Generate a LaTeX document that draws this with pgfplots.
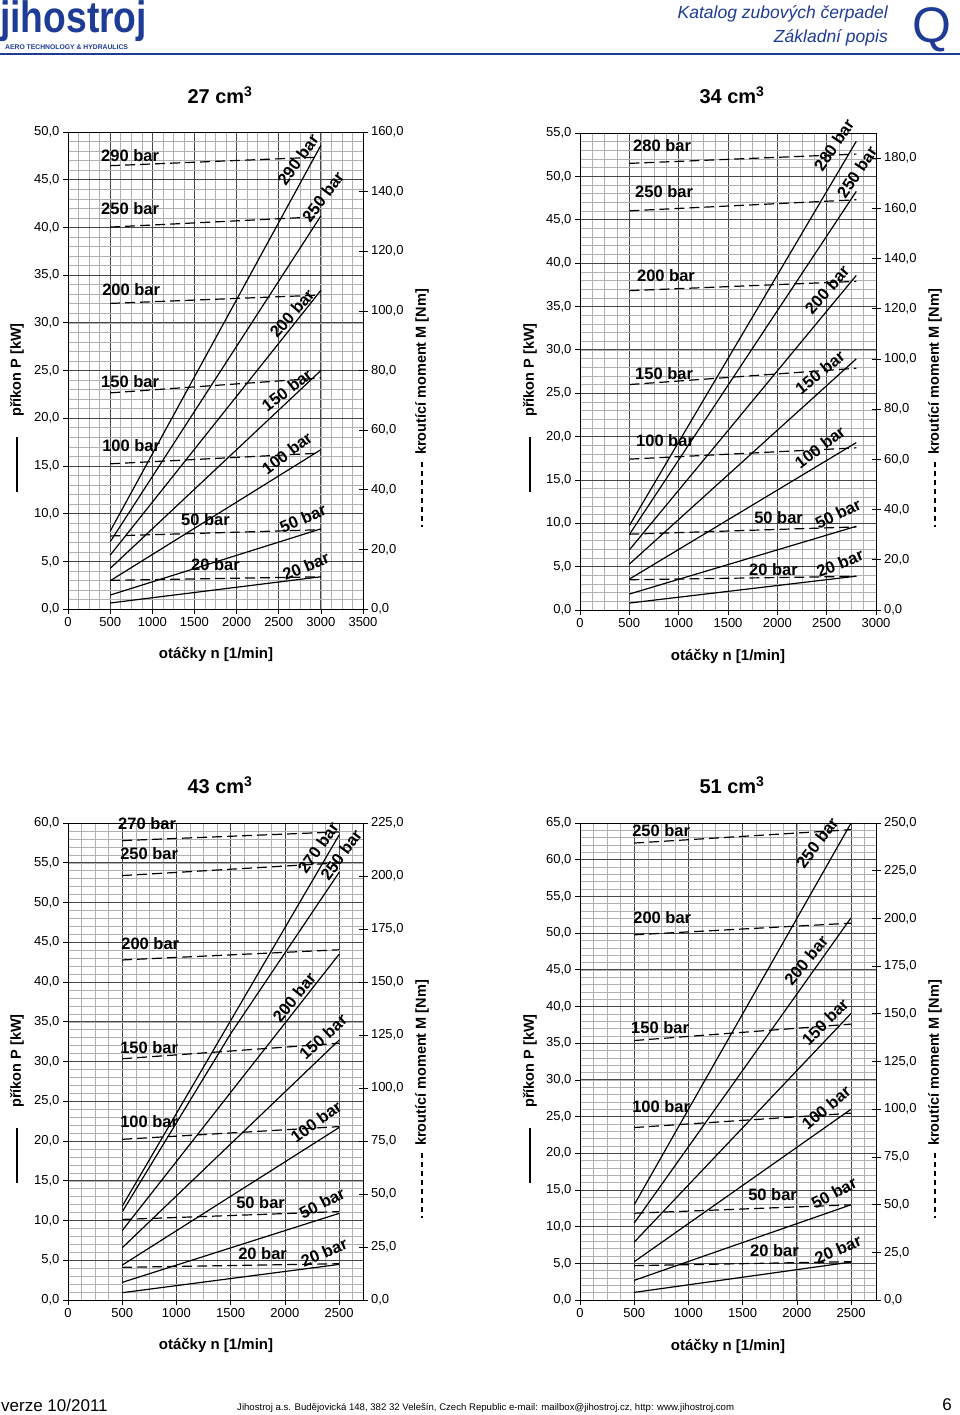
\documentclass[border=0pt]{standalone}
\usepackage{pgfplots}
\pgfplotsset{compat=1.18}
\usepackage{graphicx}
\usepackage{fontspec}
\setmainfont{Liberation Sans}
\definecolor{jblue}{HTML}{1E3C96}
\definecolor{gmaj}{HTML}{474747}
\definecolor{gmin}{HTML}{B0B0B0}
\pgfplotsset{
  base/.style={
    scale only axis, clip=false,
    xmin=0, ymin=0,
    /pgf/number format/assume math mode=true,
    tick label style={font=\fontsize{13}{15}\selectfont},
    axis line style={line width=0.8pt, black},
    yticklabel style={/pgf/number format/fixed, /pgf/number format/fixed zerofill, /pgf/number format/precision=1, /pgf/number format/use comma},
  },
  powax/.style={base,
    grid=both,
    major grid style={draw=gmaj, line width=0.75pt},
    minor grid style={draw=gmin, line width=0.5pt},
    xtick pos=left, ytick pos=left,
    tick align=outside, major tick length=5pt, minor tick length=0pt,
    tick style={black, line width=0.7pt},
    xticklabel style={/pgf/number format/1000 sep={}},
  },
  momax/.style={base,
    axis y line*=right, axis x line=none,
    tick align=center, major tick length=9pt, minor tick length=0pt,
    tick style={black, line width=0.7pt},
  },
  pline/.style={black, line width=1.2pt, no marks},
  mline/.style={black, line width=1.2pt, no marks, dash pattern=on 10pt off 5pt},
}
\tikzset{blab/.style={font=\bfseries\fontsize{16.5}{18}\selectfont, inner sep=0pt}}
\newcommand{\axlab}{\bfseries\fontsize{14.5}{16}\selectfont}
\begin{document}
\begin{tikzpicture}
\fill[white] (0pt,0pt) rectangle (960pt,-1415pt);
\useasboundingbox (0pt,0pt) rectangle (960pt,-1415pt);

% header
\node[anchor=west, text=jblue, font=\bfseries\fontsize{40}{40}\selectfont, inner sep=0pt] at (0pt,-21pt) {\scalebox{0.93}[1.1]{jihostroj}};
\node[anchor=west, text=jblue, font=\bfseries\fontsize{6.8}{7}\selectfont, inner sep=0pt] at (5pt,-47pt) {AERO TECHNOLOGY \& HYDRAULICS};
\node[anchor=east, text=jblue, font=\itshape\fontsize{17.5}{19}\selectfont, inner sep=0pt] at (888pt,-14pt) {Katalog zubových čerpadel};
\node[anchor=east, text=jblue, font=\itshape\fontsize{17.5}{19}\selectfont, inner sep=0pt] at (888pt,-38pt) {Základní popis};
\node[text=jblue, font=\fontsize{50}{50}\selectfont, inner sep=0pt] at (932pt,-30pt) {Q};
\draw[jblue, line width=2.5pt] (0pt,-54pt) -- (960pt,-54pt);

% footer
\node[anchor=west, font=\fontsize{17}{19}\selectfont, inner sep=0pt] at (1pt,-1405pt) {verze 10/2011};
\node[anchor=west, font=\fontsize{9.6}{11}\selectfont, inner sep=0pt] at (237pt,-1408pt) {Jihostroj a.s. Budějovická 148, 382 32 Velešín, Czech Republic e-mail: mailbox@jihostroj.cz, http: www.jihostroj.com};
\node[font=\fontsize{17}{19}\selectfont, inner sep=0pt] at (947pt,-1405pt) {6};

% titles
\node[font=\bfseries\fontsize{20}{22}\selectfont] at (220pt,-95pt) {27 cm\textsuperscript{3}};
\node[font=\bfseries\fontsize{20}{22}\selectfont] at (732pt,-95pt) {34 cm\textsuperscript{3}};
\node[font=\bfseries\fontsize{20}{22}\selectfont] at (220pt,-785pt) {43 cm\textsuperscript{3}};
\node[font=\bfseries\fontsize{20}{22}\selectfont] at (732pt,-785pt) {51 cm\textsuperscript{3}};

% axis labels and key lines
\foreach \xl/\xr/\yo in {17/422/0, 530/935/0, 17/422/691, 530/935/691}{
  \node[rotate=90, font=\axlab] at (\xl pt,-370pt-\yo pt) {příkon P [kW]};
  \draw[line width=1.2pt] (\xl pt,-437pt-\yo pt) -- (\xl pt,-492pt-\yo pt);
  \node[rotate=90, font=\axlab] at (\xr pt,-372pt-\yo pt) {kroutící moment M [Nm]};
  \draw[line width=1.2pt, dash pattern=on 5pt off 4pt] (\xr pt,-462pt-\yo pt) -- (\xr pt,-527pt-\yo pt);
}
\node[font=\bfseries\fontsize{15}{17}\selectfont] at (216pt,-654pt) {otáčky n [1/min]};
\node[font=\bfseries\fontsize{15}{17}\selectfont] at (728pt,-656pt) {otáčky n [1/min]};
\node[font=\bfseries\fontsize{15}{17}\selectfont] at (216pt,-1345pt) {otáčky n [1/min]};
\node[font=\bfseries\fontsize{15}{17}\selectfont] at (728pt,-1346pt) {otáčky n [1/min]};

% ================= Panel 1: 27 cm3 =================
\begin{axis}[powax, at={(68pt,-609pt)}, anchor=south west, width=295pt, height=477pt,
  xmax=3500, ymax=50, xtick={0,500,...,3500}, ytick={0,5,...,50},
  minor xtick={0,125,...,3500}, minor ytick={0,1,...,50}]
\addplot[pline] coordinates {(500,0.63) (3000,3.38)};
\addplot[pline] coordinates {(500,1.46) (3000,8.4)};
\addplot[pline] coordinates {(500,2.96) (3000,16.7)};
\addplot[pline] coordinates {(500,4.25) (3000,25.0)};
\addplot[pline] coordinates {(500,5.64) (3000,33.4)};
\addplot[pline] coordinates {(500,7.04) (3000,41.2)};
\addplot[pline] coordinates {(500,8.15) (3000,48.6)};
\node[blab, anchor=west] at (axis cs:392,47.5) {290 bar};
\node[blab, anchor=west] at (axis cs:392,42.0) {250 bar};
\node[blab, anchor=west] at (axis cs:404,33.5) {200 bar};
\node[blab, anchor=west] at (axis cs:392,23.8) {150 bar};
\node[blab, anchor=west] at (axis cs:404,17.1) {100 bar};
\node[blab, anchor=west] at (axis cs:1340,9.4) {50 bar};
\node[blab, anchor=west] at (axis cs:1459,4.7) {20 bar};
\node[blab, rotate=54] at (axis cs:2729,47.1) {290 bar};
\node[blab, rotate=53] at (axis cs:3025,43.2) {250 bar};
\node[blab, rotate=49] at (axis cs:2657,31.0) {200 bar};
\node[blab, rotate=37] at (axis cs:2598,22.96) {150 bar};
\node[blab, rotate=37] at (axis cs:2598,16.35) {100 bar};
\node[blab, rotate=23] at (axis cs:2788,9.5) {50 bar};
\node[blab, rotate=22] at (axis cs:2823,4.5) {20 bar};
\end{axis}
\begin{axis}[momax, at={(68pt,-609pt)}, anchor=south west, width=295pt, height=477pt,
  xmax=3500, ymax=160, ytick={0,20,...,160}]
\addplot[mline] coordinates {(500,9.6) (3000,10.8)};
\addplot[mline] coordinates {(500,24.5) (3000,26.6)};
\addplot[mline] coordinates {(500,48.7) (3000,52.3)};
\addplot[mline] coordinates {(500,72.5) (3000,77.5)};
\addplot[mline] coordinates {(500,102.5) (3000,105.3)};
\addplot[mline] coordinates {(500,128.1) (3000,131.6)};
\addplot[mline] coordinates {(500,148.7) (3000,151.6)};
\end{axis}

% ================= Panel 2: 34 cm3 =================
\begin{axis}[powax, at={(580pt,-610pt)}, anchor=south west, width=296pt, height=477pt,
  xmax=3000, ymax=55, xtick={0,500,...,3000}, ytick={0,5,...,55},
  minor xtick={0,125,...,3000}, minor ytick={0,1,...,55}]
\addplot[pline] coordinates {(500,0.8) (2800,3.9)};
\addplot[pline] coordinates {(500,1.84) (2800,9.65)};
\addplot[pline] coordinates {(500,3.56) (2800,19.3)};
\addplot[pline] coordinates {(500,5.29) (2800,28.96)};
\addplot[pline] coordinates {(500,6.93) (2800,38.58)};
\addplot[pline] coordinates {(500,8.70) (2800,48.27)};
\addplot[pline] coordinates {(500,9.73) (2800,54.04)};
\node[blab, anchor=west] at (axis cs:537,53.6) {280 bar};
\node[blab, anchor=west] at (axis cs:557,48.3) {250 bar};
\node[blab, anchor=west] at (axis cs:577,38.6) {200 bar};
\node[blab, anchor=west] at (axis cs:557,27.3) {150 bar};
\node[blab, anchor=west] at (axis cs:567,19.5) {100 bar};
\node[blab, anchor=west] at (axis cs:1764,10.6) {50 bar};
\node[blab, anchor=west] at (axis cs:1713,4.7) {20 bar};
\node[blab, rotate=56] at (axis cs:2574,53.6) {280 bar};
\node[blab, rotate=56] at (axis cs:2807,50.5) {250 bar};
\node[blab, rotate=49] at (axis cs:2503,36.9) {200 bar};
\node[blab, rotate=39] at (axis cs:2432,27.4) {150 bar};
\node[blab, rotate=37] at (axis cs:2432,18.8) {100 bar};
\node[blab, rotate=26] at (axis cs:2615,11.1) {50 bar};
\node[blab, rotate=22] at (axis cs:2635,5.4) {20 bar};
\end{axis}
\begin{axis}[momax, at={(580pt,-610pt)}, anchor=south west, width=296pt, height=477pt,
  xmax=3000, ymax=190, ytick={0,20,...,180}]
\addplot[mline] coordinates {(500,12.05) (2800,13.4)};
\addplot[mline] coordinates {(500,30.2) (2800,33.1)};
\addplot[mline] coordinates {(500,60.1) (2800,64.6)};
\addplot[mline] coordinates {(500,89.8) (2800,96.3)};
\addplot[mline] coordinates {(500,127.2) (2800,130.9)};
\addplot[mline] coordinates {(500,159.0) (2800,163.4)};
\addplot[mline] coordinates {(500,177.9) (2800,181.6)};
\end{axis}

% ================= Panel 3: 43 cm3 =================
\begin{axis}[powax, at={(68pt,-1300pt)}, anchor=south west, width=295pt, height=477pt,
  xmax=2720, ymax=60, xtick={0,500,...,2500}, ytick={0,5,...,60},
  minor xtick={0,125,...,2625}, minor ytick={0,1,...,60}]
\addplot[pline] coordinates {(500,0.92) (2500,4.48)};
\addplot[pline] coordinates {(500,2.22) (2500,10.9)};
\addplot[pline] coordinates {(500,4.39) (2500,21.7)};
\addplot[pline] coordinates {(500,6.57) (2500,32.7)};
\addplot[pline] coordinates {(500,8.74) (2500,43.5)};
\addplot[pline] coordinates {(500,11.09) (1500,33.5) (2500,53.8)};
\addplot[pline] coordinates {(500,11.8) (2500,58.5)};
\node[blab, anchor=west] at (axis cs:461,59.9) {270 bar};
\node[blab, anchor=west] at (axis cs:480,56.1) {250 bar};
\node[blab, anchor=west] at (axis cs:490,44.8) {200 bar};
\node[blab, anchor=west] at (axis cs:480,31.7) {150 bar};
\node[blab, anchor=west] at (axis cs:480,22.5) {100 bar};
\node[blab, anchor=west] at (axis cs:1550,12.3) {50 bar};
\node[blab, anchor=west] at (axis cs:1568,5.8) {20 bar};
\node[blab, rotate=55] at (axis cs:2306,56.9) {270 bar};
\node[blab, rotate=54] at (axis cs:2518,56.0) {250 bar};
\node[blab, rotate=51] at (axis cs:2085,38.1) {200 bar};
\node[blab, rotate=43] at (axis cs:2352,33.1) {150 bar};
\node[blab, rotate=36] at (axis cs:2288,22.4) {100 bar};
\node[blab, rotate=27] at (axis cs:2343,12.2) {50 bar};
\node[blab, rotate=23] at (axis cs:2362,6.0) {20 bar};
\end{axis}
\begin{axis}[momax, at={(68pt,-1300pt)}, anchor=south west, width=295pt, height=477pt,
  xmax=2720, ymax=225, ytick={0,25,...,225}]
\addplot[mline] coordinates {(500,15.4) (2500,17.1)};
\addplot[mline] coordinates {(500,38.0) (2500,41.7)};
\addplot[mline] coordinates {(500,75.8) (2500,81.8)};
\addplot[mline] coordinates {(500,113.8) (2500,121.1)};
\addplot[mline] coordinates {(500,160.4) (2500,165.2)};
\addplot[mline] coordinates {(500,200.2) (2500,206.2)};
\addplot[mline] coordinates {(500,216.7) (2500,220.8)};
\end{axis}

% ================= Panel 4: 51 cm3 =================
\begin{axis}[powax, at={(580pt,-1300pt)}, anchor=south west, width=296pt, height=477pt,
  xmax=2730, ymax=65, xtick={0,500,...,2500}, ytick={0,5,...,65},
  minor xtick={0,125,...,2625}, minor ytick={0,1,...,65}]
\addplot[pline] coordinates {(500,1.04) (2500,5.17)};
\addplot[pline] coordinates {(500,2.68) (2500,12.98)};
\addplot[pline] coordinates {(500,5.22) (2500,26.0)};
\addplot[pline] coordinates {(500,7.89) (2500,39.05)};
\addplot[pline] coordinates {(500,10.48) (2500,52.09)};
\addplot[pline] coordinates {(500,12.98) (2500,65.0)};
\node[blab, anchor=west] at (axis cs:480,64.0) {250 bar};
\node[blab, anchor=west] at (axis cs:490,52.1) {200 bar};
\node[blab, anchor=west] at (axis cs:470,37.1) {150 bar};
\node[blab, anchor=west] at (axis cs:480,26.3) {100 bar};
\node[blab, anchor=west] at (axis cs:1550,14.3) {50 bar};
\node[blab, anchor=west] at (axis cs:1568,6.7) {20 bar};
\node[blab, rotate=53] at (axis cs:2186,62.3) {250 bar};
\node[blab, rotate=50] at (axis cs:2085,46.3) {200 bar};
\node[blab, rotate=45] at (axis cs:2260,37.9) {150 bar};
\node[blab, rotate=40] at (axis cs:2270,26.2) {100 bar};
\node[blab, rotate=28] at (axis cs:2343,14.6) {50 bar};
\node[blab, rotate=23] at (axis cs:2380,6.9) {20 bar};
\end{axis}
\begin{axis}[momax, at={(580pt,-1300pt)}, anchor=south west, width=296pt, height=477pt,
  xmax=2730, ymax=250, ytick={0,25,...,250}]
\addplot[mline] coordinates {(500,18.0) (2500,20.1)};
\addplot[mline] coordinates {(500,45.5) (2500,49.9)};
\addplot[mline] coordinates {(500,90.4) (2500,97.9)};
\addplot[mline] coordinates {(500,136.0) (2500,144.6)};
\addplot[mline] coordinates {(500,191.4) (2500,197.5)};
\addplot[mline] coordinates {(500,239.5) (2500,246.5)};
\end{axis}
\end{tikzpicture}
\end{document}
